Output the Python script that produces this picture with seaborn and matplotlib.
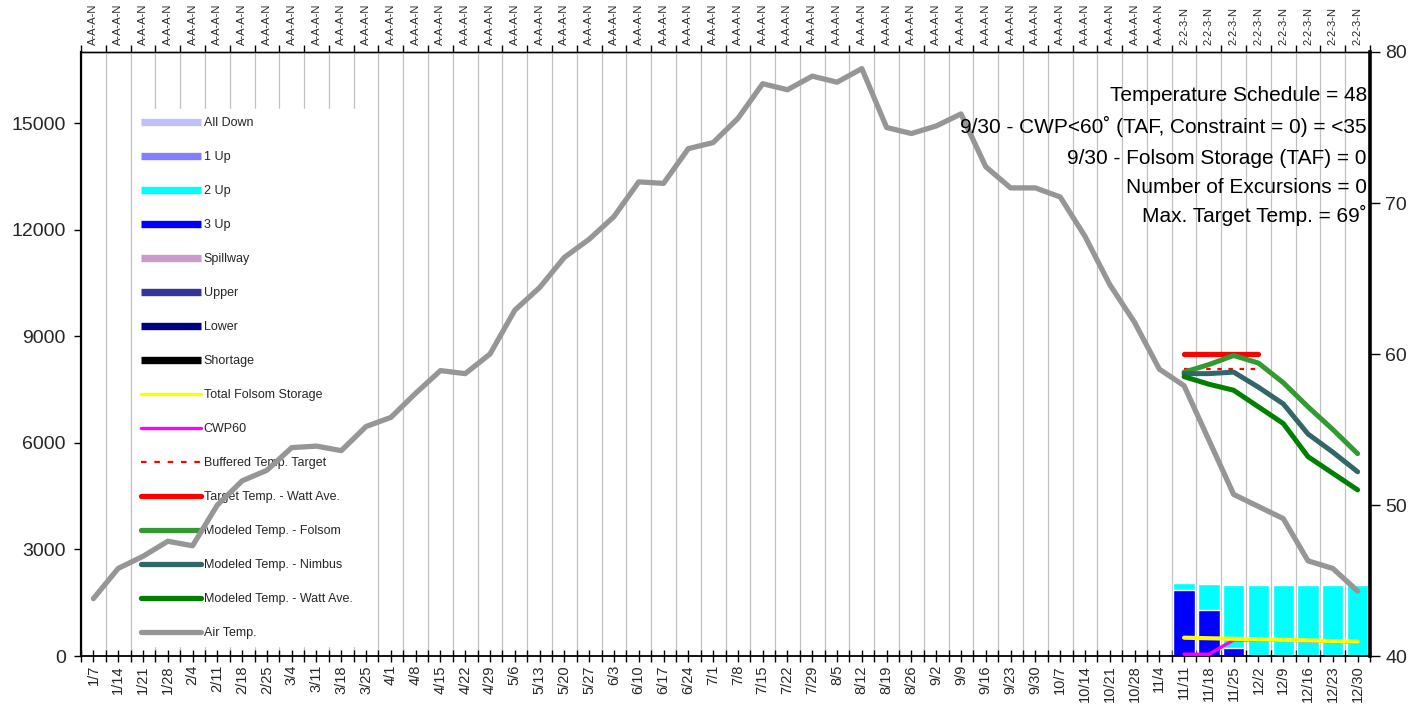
import numpy as np
import pandas as pd
import matplotlib.pyplot as plt
import seaborn as sns
from matplotlib.lines import Line2D

# weekly categories
dates = ['1/7', '1/14', '1/21', '1/28', '2/4', '2/11', '2/18', '2/25', '3/4', '3/11',
         '3/18', '3/25', '4/1', '4/8', '4/15', '4/22', '4/29', '5/6', '5/13', '5/20',
         '5/27', '6/3', '6/10', '6/17', '6/24', '7/1', '7/8', '7/15', '7/22', '7/29',
         '8/5', '8/12', '8/19', '8/26', '9/2', '9/9', '9/16', '9/23', '9/30', '10/7',
         '10/14', '10/21', '10/28', '11/4', '11/11', '11/18', '11/25', '12/2', '12/9',
         '12/16', '12/23', '12/30']
ops_labels = ['A-A-A-N'] * 44 + ['2-2-3-N'] * 8

# air temperature (right axis, deg F)
air_temp = [43.8, 45.8, 46.6, 47.6, 47.3, 50.0, 51.6, 52.3, 53.8, 53.9,
            53.6, 55.2, 55.8, 57.4, 58.9, 58.7, 60.0, 62.9, 64.4, 66.4,
            67.6, 69.1, 71.4, 71.3, 73.6, 74.0, 75.6, 77.9, 77.5, 78.4,
            78.0, 78.9, 75.0, 74.6, 75.1, 75.9, 72.4, 71.0, 71.0, 70.4,
            67.8, 64.6, 62.1, 59.0, 57.9, 54.3, 50.7, 49.9, 49.1, 46.3,
            45.8, 44.3]

# release volumes by shutter config (left axis)
three_up = [0] * 44 + [1860, 1300, 235, 0, 0, 0, 0, 0]
two_up = [0] * 44 + [190, 730, 1765, 2000, 2000, 2000, 2000, 2000]

# late-season series (11/11 - 12/30)
late_dates = dates[44:]
folsom_temp = [58.8, 59.3, 59.9, 59.4, 58.1, 56.5, 55.0, 53.4]
nimbus_temp = [58.7, 58.7, 58.8, 57.8, 56.7, 54.7, 53.5, 52.2]
watt_temp = [58.5, 58.0, 57.6, 56.5, 55.4, 53.2, 52.1, 51.0]
storage = [515, 500, 485, 470, 455, 440, 420, 405]
cwp60 = [50, 50, 450, 460, 445, 430, 410, 395]

# target temps (11/11 - 12/2)
target_dates = dates[44:48]
target_temp = [60, 60, 60, 60]
buffered_temp = [59, 59, 59, 59]

notes = ['Temperature Schedule = 48',
         '9/30 - CWP<60\u02da (TAF, Constraint = 0) = <35',
         '9/30 - Folsom Storage (TAF) = 0',
         'Number of Excursions = 0',
         'Max. Target Temp. = 69\u02da']

sns.set_theme(style='white')
plt.rcParams['font.family'] = ['Liberation Sans', 'DejaVu Sans']

df = pd.DataFrame({'date': dates, 'pos': np.arange(len(dates)),
                   'air': air_temp, 'three_up': three_up,
                   'total': np.array(three_up) + np.array(two_up)})
late = pd.DataFrame({'date': late_dates, 'pos': np.arange(44, 52),
                     'folsom': folsom_temp, 'nimbus': nimbus_temp,
                     'watt': watt_temp, 'storage': storage, 'cwp60': cwp60})
tgt = pd.DataFrame({'pos': np.arange(44, 48), 'target': target_temp,
                    'buffered': buffered_temp})

fig = plt.figure(figsize=(14.12, 7.13), dpi=100)
ax = fig.add_axes([0.05737, 0.07994, 0.91289, 0.84713])

# stacked bars: total (2 Up on top) then 3 Up over the bottom
sns.barplot(data=df, x='date', y='total', order=dates, color='#00FFFF',
            saturation=1, width=0.86, errorbar=None, ax=ax, zorder=2)
sns.barplot(data=df, x='date', y='three_up', order=dates, color='#0000FF',
            saturation=1, width=0.86, errorbar=None, ax=ax, zorder=2)

sns.lineplot(data=late, x='pos', y='cwp60', color='#FF00FF', lw=2.4,
             solid_capstyle='round', ax=ax, zorder=3)
sns.lineplot(data=late, x='pos', y='storage', color='#FFFF00', lw=3.0,
             solid_capstyle='round', ax=ax, zorder=3)

ax.set_xlim(-0.5, 51.5)
ax.set_ylim(0, 17000)
ax.set_yticks(np.arange(0, 15001, 3000))
ax.set_xlabel('')
ax.set_ylabel('')
ax.set_xticks(np.arange(len(dates)))
ax.set_xticklabels(dates, rotation=90)
ax.set_xticks(np.arange(-0.5, 52, 1), minor=True)
ax.grid(False)
ax.grid(True, which='minor', axis='x', color='#C0C0C0', lw=0.9)
ax.set_axisbelow(True)
ax.tick_params(axis='x', which='both', direction='inout', length=9, width=1,
               color='black', labelsize=10.5, pad=2, bottom=True)
ax.tick_params(axis='y', direction='out', length=5, width=1, color='black',
               labelsize=14, left=True, pad=6)
for s in ['left', 'bottom', 'top']:
    ax.spines[s].set_color('black')
ax.spines['left'].set_linewidth(1.6)
ax.spines['bottom'].set_linewidth(1.3)
ax.spines['top'].set_linewidth(1.0)
ax.spines['right'].set_visible(False)

# operations labels on top
secax = ax.secondary_xaxis('top')
secax.set_xticks(np.arange(len(dates)))
secax.set_xticklabels(ops_labels, rotation=90, fontsize=8)
secax.set_xticks(np.arange(-0.5, 52, 1), minor=True)
secax.tick_params(which='major', length=0, pad=5)
secax.tick_params(which='minor', direction='out', length=5, width=1, color='black')
secax.spines['top'].set_linewidth(1.0)

# temperature axis
ax2 = ax.twinx()
sns.lineplot(data=df, x='pos', y='air', color='#969696', lw=3.8,
             solid_capstyle='round', ax=ax2)
sns.lineplot(data=tgt, x='pos', y='target', color='#FF0000', lw=3.8,
             solid_capstyle='round', ax=ax2)
sns.lineplot(data=tgt, x='pos', y='buffered', color='#FF0000', lw=1.6,
             ls=(0, (2, 3)), ax=ax2)
sns.lineplot(data=late, x='pos', y='folsom', color='#339933', lw=3.6,
             solid_capstyle='round', ax=ax2)
sns.lineplot(data=late, x='pos', y='nimbus', color='#336666', lw=3.6,
             solid_capstyle='round', ax=ax2)
sns.lineplot(data=late, x='pos', y='watt', color='#008000', lw=3.6,
             solid_capstyle='round', ax=ax2)
ax2.set_ylim(40, 80)
ax2.set_yticks([40, 50, 60, 70, 80])
ax2.set_ylabel('')
ax2.set_xlim(-0.5, 51.5)
ax2.tick_params(axis='y', direction='out', length=7, width=1, color='black',
                labelsize=14, right=True, pad=4)
ax2.spines['right'].set_color('black')
ax2.spines['right'].set_linewidth(2.6)
for s in ['left', 'bottom', 'top']:
    ax2.spines[s].set_visible(False)

baselines = [101, 133, 164, 193, 222]
for txt, yb in zip(notes, baselines):
    ax2.text(0.9975, (656 - yb) / 604, txt, transform=ax2.transAxes,
             ha='right', va='baseline', fontsize=15, color='black')

# legend
bar_items = [('All Down', '#C0C0FF'), ('1 Up', '#8080FF'), ('2 Up', '#00FFFF'),
             ('3 Up', '#0000FF'), ('Spillway', '#CC99CC'), ('Upper', '#333399'),
             ('Lower', '#000080'), ('Shortage', '#000000')]
handles = [Line2D([], [], color=c, lw=5.3, solid_capstyle='butt') for _, c in bar_items]
labels = [n for n, _ in bar_items]
line_items = [('Total Folsom Storage', '#FFFF00', 2.4, '-'),
              ('CWP60', '#FF00FF', 2.4, '-'),
              ('Buffered Temp. Target', '#FF0000', 1.6, (0, (2.5, 3.5))),
              ('Target Temp. - Watt Ave.', '#FF0000', 3.8, '-'),
              ('Modeled Temp. - Folsom', '#339933', 3.8, '-'),
              ('Modeled Temp. - Nimbus', '#336666', 3.8, '-'),
              ('Modeled Temp. - Watt Ave.', '#008000', 3.8, '-'),
              ('Air Temp.', '#969696', 3.8, '-')]
for n, c, w, ls in line_items:
    handles.append(Line2D([], [], color=c, lw=w, ls=ls, solid_capstyle='round'))
    labels.append(n)
leg = ax.legend(handles, labels, loc='upper left', bbox_to_anchor=(0.0405, 0.905),
                fontsize=9, frameon=True, fancybox=False, framealpha=1,
                edgecolor='white', facecolor='white', handlelength=4.8,
                handletextpad=0.25, labelspacing=1.76, borderpad=0.6,
                borderaxespad=0)

fig.savefig('out.png', dpi=100)
